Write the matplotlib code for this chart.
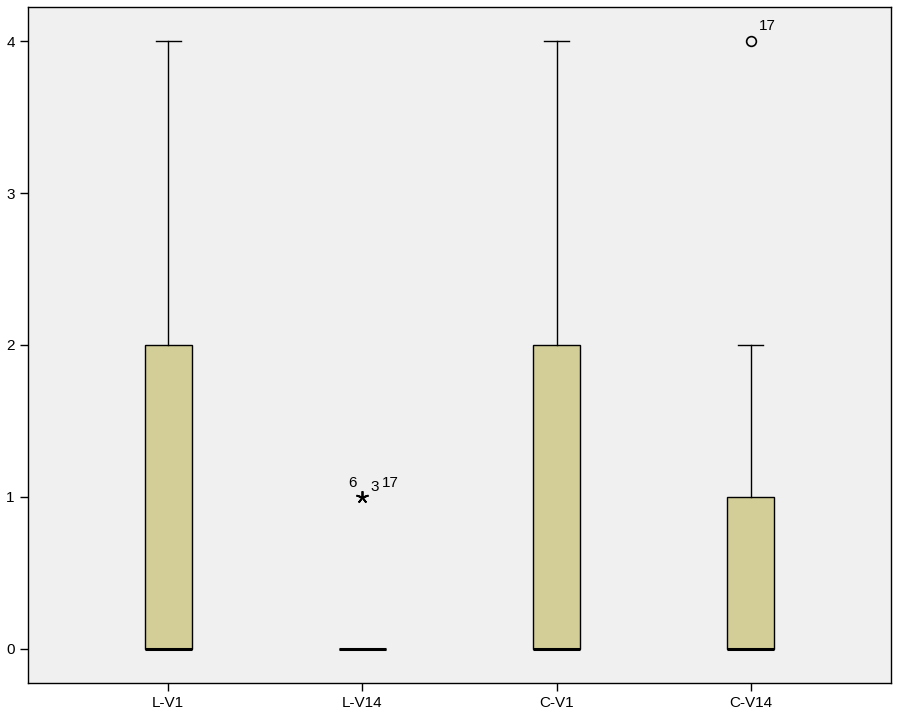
import matplotlib
matplotlib.use("Agg")
import matplotlib.pyplot as plt

plt.rcParams["font.family"] = ["Liberation Sans", "DejaVu Sans"]

# Box statistics
categories = ["L-V1", "L-V14", "C-V1", "C-V14"]
q1 = [0, 0, 0, 0]
med = [0, 0, 0, 0]
q3 = [2, 0, 2, 1]
whislo = [0, 0, 0, 0]
whishi = [4, 0, 4, 2]

# outliers: (category index, value, marker, labels)
outlier_cat = [1, 3]
outlier_val = [1, 4]
outlier_marker = ["*", "o"]
outlier_labels = [["6", "3", "17"], ["17"]]

stats = []
for i, name in enumerate(categories):
    stats.append(dict(label=name, q1=q1[i], med=med[i], q3=q3[i],
                      whislo=whislo[i], whishi=whishi[i], fliers=[]))

fig = plt.figure(figsize=(9, 7.19), dpi=100)
ax = fig.add_axes([28 / 900, 1 - 683 / 719, 863 / 900, 676 / 719])
ax.set_facecolor("#f0f0f0")

positions = list(range(1, len(categories) + 1))
ax.bxp(stats, positions=positions, widths=0.242, patch_artist=True,
       showfliers=False,
       boxprops=dict(facecolor="#d3ce97", edgecolor="black", linewidth=1),
       medianprops=dict(color="black", linewidth=2.2),
       whiskerprops=dict(color="black", linewidth=1),
       capprops=dict(color="black", linewidth=1),
       capwidths=0.13)

for c, v, m, labs in zip(outlier_cat, outlier_val, outlier_marker, outlier_labels):
    x = positions[c]
    if m == "*":
        # SPSS-style asterisk for extreme values
        ax.plot(x, v, marker=(5, 2), color="black", markersize=9,
                markeredgewidth=1.3, linestyle="none")
        offs = [(-7, 5), (9, 2), (20, 5)]
    else:
        ax.plot(x, v, marker="o", markerfacecolor="none", markeredgecolor="black",
                markersize=7, markeredgewidth=1.2, linestyle="none")
        offs = [(6, 6)]
    for lab, (dx, dy) in zip(labs, offs):
        ax.annotate(lab, (x, v), xytext=(dx, dy), textcoords="offset points",
                    fontsize=11, ha="left" if m == "o" else "center",
                    va="bottom")

ax.set_xlim(0.278, 4.722)
ax.set_ylim(-0.224, 4.224)
ax.set_xticks(positions)
ax.set_xticklabels(categories)
ax.set_yticks([0, 1, 2, 3, 4])
ax.tick_params(direction="out", length=6, width=1, labelsize=11, colors="black")
for s in ax.spines.values():
    s.set_linewidth(1)

fig.savefig("out.png", dpi=100)
